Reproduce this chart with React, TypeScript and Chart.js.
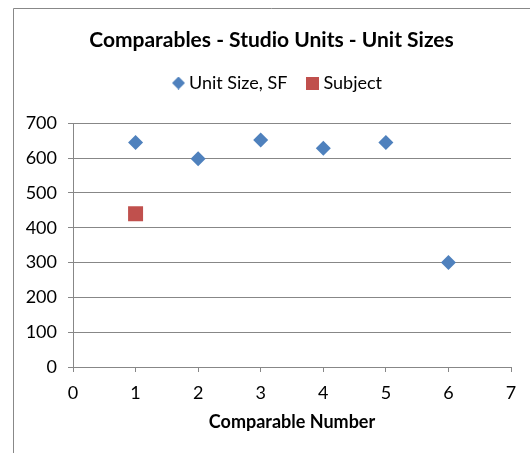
import React, { useEffect, useRef } from 'react';
import { Chart, registerables } from 'chart.js';

Chart.register(...registerables);

const chartTitle = 'Comparables - Studio Units - Unit Sizes';
const xAxisTitle = 'Comparable Number';
const seriesNames = ['Unit Size, SF', 'Subject'];
const comparableNumbers = [1, 2, 3, 4, 5, 6];
const unitSizes = [645, 598, 652, 628, 645, 300];
const subjectNumbers = [1];
const subjectSizes = [440];
const xMin = 0;
const xMax = 7;
const yMin = 0;
const yMax = 700;
const yStep = 100;

const FONT = 'Lato, Carlito, Calibri, "Noto Sans", sans-serif';
const BLUE = '#4F81BD';
const RED = '#C0504D';
const GRID = '#878787';

function makeMarker(kind: 'diamond' | 'square', size: number, color: string) {
  const c = document.createElement('canvas');
  c.width = size;
  c.height = size;
  const g = c.getContext('2d')!;
  g.fillStyle = color;
  if (kind === 'diamond') {
    g.beginPath();
    g.moveTo(size / 2, 0);
    g.lineTo(size, size / 2);
    g.lineTo(size / 2, size);
    g.lineTo(0, size / 2);
    g.closePath();
    g.fill();
  } else {
    g.fillRect(0, 0, size, size);
  }
  return c;
}

const framePlugin = {
  id: 'frame',
  beforeDraw(chart: any) {
    const ctx = chart.ctx;
    ctx.save();
    ctx.fillStyle = '#ffffff';
    ctx.fillRect(0, 0, chart.width, chart.height);
    ctx.strokeStyle = '#888888';
    ctx.lineWidth = 1;
    ctx.beginPath();
    ctx.moveTo(13.5, chart.height);
    ctx.lineTo(13.5, 8.5);
    ctx.lineTo(chart.width, 8.5);
    ctx.stroke();
    ctx.restore();
  },
};

// nudges the legend box to sit where the reference legend sits
const legendNudgePlugin = {
  id: 'legendNudge',
  afterLayout(chart: any) {
    const lg = chart.legend;
    if (!lg) return;
    lg.left += 8;
    lg.right += 8;
    lg.top -= 4;
    lg.bottom -= 4;
  },
};

export default function App() {
  const ref = useRef<HTMLCanvasElement | null>(null);
  useEffect(() => {
    if (!ref.current) return;
    const diamond = makeMarker('diamond', 13, BLUE);
    const square = makeMarker('square', 13, RED);
    const markers = [diamond, square];
    const chart = new Chart(ref.current, {
      type: 'scatter',
      data: {
        datasets: [
          {
            label: seriesNames[0],
            data: comparableNumbers.map((x, i) => ({ x, y: unitSizes[i] })),
            pointStyle: 'rectRot',
            pointRadius: 7.5,
            pointHoverRadius: 7.5,
            backgroundColor: BLUE,
            borderColor: BLUE,
            borderWidth: 0,
          },
          {
            label: seriesNames[1],
            data: subjectNumbers.map((x, i) => ({ x, y: subjectSizes[i] })),
            pointStyle: 'rect',
            pointRadius: 10.6,
            pointHoverRadius: 10.6,
            backgroundColor: RED,
            borderColor: RED,
            borderWidth: 0,
          },
        ],
      },
      options: {
        responsive: false,
        animation: false,
        events: [],
        layout: { padding: { left: 13, right: 0, top: 0, bottom: 0 } },
        plugins: {
          title: {
            display: true,
            text: chartTitle,
            color: '#000',
            font: { family: FONT, size: 21, weight: 'bold' },
            padding: { top: 27.4, bottom: 1.4 },
          },
          subtitle: {
            display: true,
            text: '',
            weight: 500,
            font: { family: FONT, size: 10 },
            padding: { top: 0, bottom: 5.3 },
          },
          legend: {
            display: true,
            position: 'top',
            labels: {
              usePointStyle: true,
              boxWidth: 3,
              boxHeight: 12,
              padding: 24,
              color: '#000',
              font: { family: FONT, size: 18 },
              generateLabels: (ch: any) => {
                const items = Chart.defaults.plugins.legend.labels.generateLabels(ch);
                return items.map((it: any, i: number) => ({ ...it, pointStyle: markers[i], lineWidth: 0 }));
              },
            },
          },
          tooltip: { enabled: false },
        },
        scales: {
          x: {
            type: 'linear',
            min: xMin,
            max: xMax,
            ticks: {
              stepSize: 1,
              color: '#000',
              padding: 10,
              font: { family: FONT, size: 18 },
            },
            grid: {
              drawOnChartArea: false,
              drawTicks: true,
              tickLength: 5,
              color: GRID,
            },
            border: { color: GRID },
            title: {
              display: true,
              text: xAxisTitle,
              color: '#000',
              font: { family: FONT, size: 18, weight: 'bold' },
              padding: { top: 4, bottom: 20 },
            },
            afterFit: (s: any) => {
              s.height = 86;
              s.paddingRight = 19;
            },
          },
          y: {
            type: 'linear',
            min: yMin,
            max: yMax,
            ticks: {
              stepSize: yStep,
              color: '#000',
              padding: 11,
              font: { family: FONT, size: 18 },
            },
            grid: {
              drawTicks: true,
              tickLength: 5,
              color: GRID,
            },
            border: { color: GRID },
            afterFit: (s: any) => {
              s.width = 60;
            },
          },
        },
      },
      plugins: [framePlugin, legendNudgePlugin],
    } as any);
    return () => chart.destroy();
  }, []);
  return (
    <div style={{ position: 'absolute', left: 0, top: 0, width: 530, height: 453 }}>
      <canvas ref={ref} width={530} height={453} style={{ display: 'block' }} />
    </div>
  );
}
